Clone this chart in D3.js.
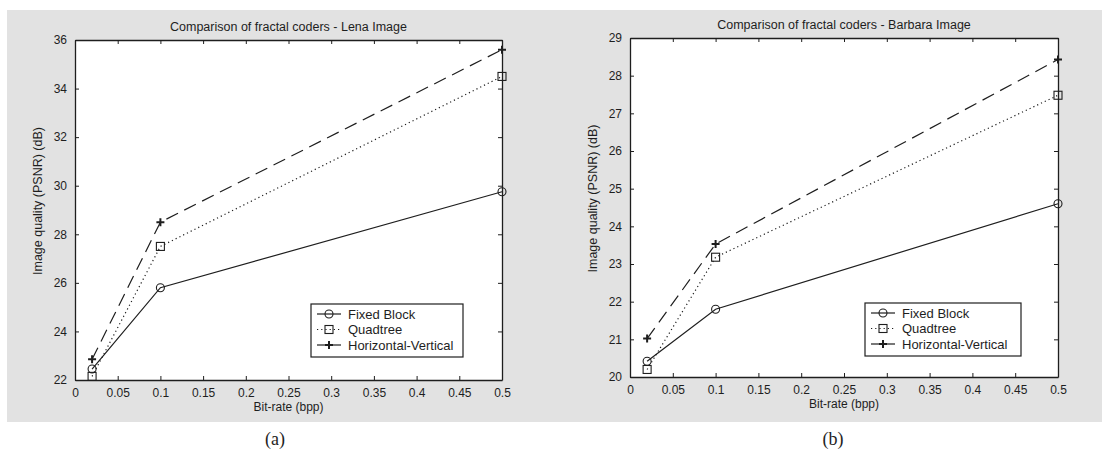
<!DOCTYPE html>
<html>
<head>
<meta charset="utf-8">
<script src="https://cdn.jsdelivr.net/npm/d3@7"></script>
<style>
  html, body { margin: 0; padding: 0; background: #fff; }
  svg { display: block; }
</style>
</head>
<body>
<svg id="chart" width="1109" height="464"></svg>
<script>
// ---- Data ----
const bitRates = [0.02, 0.1, 0.5];
const seriesNames = ["Fixed Block", "Quadtree", "Horizontal-Vertical"];

const lenaFixedBlock = [22.45, 25.8, 29.75];
const lenaQuadtree = [22.15, 27.5, 34.5];
const lenaHorizVert = [22.85, 28.5, 35.6];

const barbaraFixedBlock = [20.42, 21.8, 24.6];
const barbaraQuadtree = [20.2, 23.18, 27.48];
const barbaraHorizVert = [21.02, 23.53, 28.43];

const xTicks = [0, 0.05, 0.1, 0.15, 0.2, 0.25, 0.3, 0.35, 0.4, 0.45, 0.5];
const lenaYTicks = [22, 24, 26, 28, 30, 32, 34, 36];
const barbaraYTicks = [20, 21, 22, 23, 24, 25, 26, 27, 28, 29];

const titles = ["Comparison of fractal coders - Lena Image", "Comparison of fractal coders - Barbara Image"];
const xLabel = "Bit-rate (bpp)";
const yLabel = "Image quality (PSNR) (dB)";
const captions = ["(a)", "(b)"];

// ---- Drawing ----
const svg = d3.select("#chart");
const ink = "#1e1e1e";
const sans = "'Liberation Sans', Arial, sans-serif";

svg.append("rect").attr("x", 7).attr("y", 10).attr("width", 1095).attr("height", 412)
  .attr("fill", "#e2e2e2");

const styles = [
  { dash: null, marker: "circle" },
  { dash: "1.2,3", marker: "square" },
  { dash: "13,7", marker: "plus" }
];

function panel(cfg) {
  const g = svg.append("g");
  const x = d3.scaleLinear().domain([0, 0.5]).range([cfg.x0, cfg.x1]);
  const y = d3.scaleLinear().domain(cfg.yDomain).range([cfg.y1, cfg.y0]);

  g.append("rect").attr("x", cfg.x0).attr("y", cfg.y0)
    .attr("width", cfg.x1 - cfg.x0).attr("height", cfg.y1 - cfg.y0)
    .attr("fill", "#fff");

  const fmt = d => d3.format("~g")(d);
  const tl = 4;
  const bx = g.append("g").attr("transform", `translate(0,${cfg.y1})`)
    .call(d3.axisBottom(x).tickValues(xTicks).tickFormat(fmt).tickSizeInner(-tl).tickSizeOuter(0).tickPadding(8));
  const tx = g.append("g").attr("transform", `translate(0,${cfg.y0})`)
    .call(d3.axisTop(x).tickValues(xTicks).tickFormat("").tickSizeInner(-tl).tickSizeOuter(0));
  const ly = g.append("g").attr("transform", `translate(${cfg.x0},0)`)
    .call(d3.axisLeft(y).tickValues(cfg.yTicks).tickFormat(fmt).tickSizeInner(-tl).tickSizeOuter(0).tickPadding(8));
  const ry = g.append("g").attr("transform", `translate(${cfg.x1},0)`)
    .call(d3.axisRight(y).tickValues(cfg.yTicks).tickFormat("").tickSizeInner(-tl).tickSizeOuter(0));

  [bx, tx, ly, ry].forEach(a => {
    a.select(".domain").attr("stroke", ink).attr("stroke-width", 1.3);
    a.selectAll(".tick line").attr("stroke", ink).attr("stroke-width", 1);
    a.selectAll("text").attr("font-family", sans).attr("font-size", 12).attr("fill", ink);
  });

  g.append("text").attr("x", (cfg.x0 + cfg.x1) / 2).attr("y", cfg.y0 - 9)
    .attr("text-anchor", "middle").attr("font-family", sans).attr("font-size", 12.5)
    .attr("fill", ink).text(cfg.title);
  g.append("text").attr("x", (cfg.x0 + cfg.x1) / 2).attr("y", cfg.y1 + 31)
    .attr("text-anchor", "middle").attr("font-family", sans).attr("font-size", 12)
    .attr("fill", ink).text(xLabel);
  const yc = (cfg.y0 + cfg.y1) / 2 - 9;
  g.append("text").attr("transform", `translate(${cfg.x0 - 33},${yc}) rotate(-90)`)
    .attr("text-anchor", "middle").attr("font-family", sans).attr("font-size", 12.5)
    .attr("fill", ink).text(yLabel);
  g.append("text").attr("x", cfg.capX).attr("y", 445)
    .attr("text-anchor", "middle").attr("font-family", "'Liberation Serif', 'Times New Roman', serif")
    .attr("font-size", 18).attr("fill", ink).text(cfg.caption);

  const line = d3.line().x((d, i) => x(bitRates[i])).y(d => y(d));

  cfg.series.forEach((vals, si) => {
    const st = styles[si];
    g.append("path").datum(vals).attr("d", line).attr("fill", "none")
      .attr("stroke", ink).attr("stroke-width", 1.2)
      .attr("stroke-dasharray", st.dash);
    vals.forEach((v, i) => drawMarker(g, st.marker, x(bitRates[i]), y(v)));
  });

  const lg = g.append("g");
  lg.append("rect").attr("x", cfg.legX).attr("y", cfg.legY).attr("width", cfg.legW).attr("height", 53)
    .attr("fill", "#fff").attr("stroke", ink).attr("stroke-width", 1.2);
  seriesNames.forEach((name, si) => {
    const st = styles[si];
    const ly0 = cfg.legY + 10 + si * 15.5;
    lg.append("line").attr("x1", cfg.legX + 6).attr("x2", cfg.legX + 30)
      .attr("y1", ly0).attr("y2", ly0).attr("stroke", ink).attr("stroke-width", 1.2)
      .attr("stroke-dasharray", si === 1 ? "1.2,3" : null);
    drawMarker(lg, st.marker, cfg.legX + 18, ly0);
    lg.append("text").attr("x", cfg.legX + 37).attr("y", ly0 + 4.5)
      .attr("font-family", sans).attr("font-size", 13).attr("fill", ink).text(name);
  });
}

function drawMarker(g, type, cx, cy) {
  if (type === "circle") {
    g.append("circle").attr("cx", cx).attr("cy", cy).attr("r", 4)
      .attr("fill", "none").attr("stroke", ink).attr("stroke-width", 1.1);
  } else if (type === "square") {
    g.append("rect").attr("x", cx - 4).attr("y", cy - 4).attr("width", 8).attr("height", 8)
      .attr("fill", "none").attr("stroke", ink).attr("stroke-width", 1.1);
  } else {
    g.append("path").attr("d", `M${cx - 4},${cy}H${cx + 4}M${cx},${cy - 4}V${cy + 4}`)
      .attr("stroke", ink).attr("stroke-width", 2);
  }
}

panel({
  x0: 75, x1: 502, y0: 40, y1: 380, yDomain: [22, 36], yTicks: lenaYTicks,
  title: titles[0], caption: captions[0], capX: 275,
  series: [lenaFixedBlock, lenaQuadtree, lenaHorizVert],
  legX: 311, legY: 304, legW: 152
});
panel({
  x0: 630, x1: 1058, y0: 38, y1: 377, yDomain: [20, 29], yTicks: barbaraYTicks,
  title: titles[1], caption: captions[1], capX: 833,
  series: [barbaraFixedBlock, barbaraQuadtree, barbaraHorizVert],
  legX: 865, legY: 303, legW: 156
});
</script>
</body>
</html>
